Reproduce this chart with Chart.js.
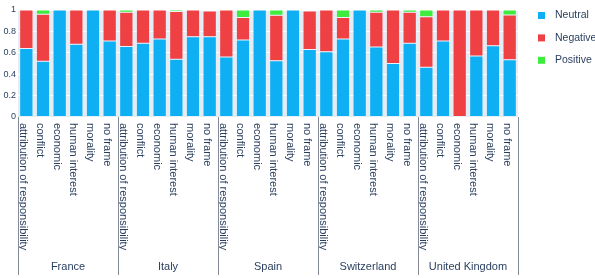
<!DOCTYPE html>
<html>
<head>
<meta charset="utf-8">
<script src="https://cdn.jsdelivr.net/npm/chart.js@4.4.1/dist/chart.umd.min.js"></script>
<style>
  html, body { margin: 0; padding: 0; background: #fff; overflow: hidden; }
  #wrap { position: relative; width: 595px; height: 278px; }
</style>
</head>
<body>
<div id="wrap"><canvas id="chart" width="595" height="278"></canvas></div>
<script>
// ===== 数据 =====
const countries = ['France', 'Italy', 'Spain', 'Switzerland', 'United Kingdom'];
const frames = ['attribution of responsibility', 'conflict', 'economic', 'human interest', 'morality', 'no frame'];
const yTicks = [0, 0.2, 0.4, 0.6, 0.8, 1];

// 每个国家 6 个 frame，依次排列
const neutral = [
  0.64, 0.52, 1.00, 0.68, 1.00, 0.71,   // France
  0.66, 0.69, 0.73, 0.54, 0.75, 0.75,   // Italy
  0.56, 0.72, 1.00, 0.525, 1.00, 0.63,  // Spain
  0.61, 0.73, 1.00, 0.655, 0.50, 0.69,  // Switzerland
  0.466, 0.71, 0.00, 0.57, 0.665, 0.534 // United Kingdom
];
const negative = [
  0.36, 0.44, 0, 0.32, 0, 0.29,
  0.32, 0.31, 0.27, 0.445, 0.25, 0.24,
  0.44, 0.21, 0, 0.425, 0, 0.36,
  0.39, 0.20, 0, 0.325, 0.50, 0.29,
  0.472, 0.29, 1.00, 0.43, 0.335, 0.419
];
const positive = [
  0, 0.04, 0, 0, 0, 0,
  0.02, 0, 0, 0.015, 0, 0.01,
  0, 0.07, 0, 0.05, 0, 0.01,
  0, 0.07, 0, 0.02, 0, 0.02,
  0.062, 0, 0, 0, 0, 0.047
];

const seriesNames = ['Neutral', 'Negative', 'Positive'];
const seriesColors = ['#0fb0f3', '#ef4044', '#3eec3e'];

const TEXT = '#2a3f5f';
const FONT = '"Liberation Sans", Arial, sans-serif';

// x 轴类别：国家 × frame
const labels = [];
countries.forEach((c) => frames.forEach((f) => labels.push(f)));

// ===== 插件：绘图区背景、竖排标签、分组线、图例 =====
const decor = {
  id: 'decor',
  beforeDraw(chart) {
    const { ctx, chartArea: a } = chart;
    ctx.save();
    ctx.fillStyle = '#e5ecf6';
    ctx.fillRect(a.left, a.top, a.right - a.left, a.bottom - a.top);
    ctx.restore();
  },
  afterDraw(chart) {
    const { ctx, chartArea: a } = chart;
    const x = chart.scales.x;
    ctx.save();
    ctx.fillStyle = TEXT;

    // 竖排 frame 标签（顺时针 90°）
    ctx.font = '11px ' + FONT;
    ctx.textAlign = 'left';
    ctx.textBaseline = 'middle';
    labels.forEach((lab, i) => {
      const px = x.getPixelForValue(i) - 3;
      ctx.save();
      ctx.translate(px, a.bottom + 6);
      ctx.rotate(Math.PI / 2);
      ctx.fillText(lab, 0, 0);
      ctx.restore();
    });

    // 分组分隔线 + 国家名
    const n = frames.length;
    const bounds = [a.left];
    for (let g = 1; g < countries.length; g++) {
      bounds.push((x.getPixelForValue(g * n - 1) + x.getPixelForValue(g * n)) / 2);
    }
    bounds.push(a.right);
    ctx.strokeStyle = '#858b96';
    ctx.lineWidth = 1;
    bounds.forEach((bx) => {
      const xx = Math.round(bx) + 0.5;
      ctx.beginPath();
      ctx.moveTo(xx, a.bottom);
      ctx.lineTo(xx, 275);
      ctx.stroke();
    });
    ctx.textAlign = 'center';
    ctx.font = '11px ' + FONT;
    countries.forEach((c, g) => {
      ctx.fillText(c, (bounds[g] + bounds[g + 1]) / 2, 267);
    });

    // 图例
    ctx.textAlign = 'left';
    ctx.font = '10.5px ' + FONT;
    chart.data.datasets.forEach((ds, i) => {
      const cy = 15.5 + i * 22.4;
      ctx.fillStyle = ds.backgroundColor;
      ctx.fillRect(538, cy - 3.5, 7, 7);
      ctx.fillStyle = TEXT;
      ctx.fillText(ds.label, 555, cy);
    });
    ctx.restore();
  },
};

const seriesData = [neutral, negative, positive];

new Chart(document.getElementById('chart'), {
  type: 'bar',
  data: {
    labels,
    datasets: seriesNames.map((name, i) => ({
      label: name,
      data: seriesData[i],
      backgroundColor: seriesColors[i],
      borderColor: 'rgba(255,255,255,0.7)',
      borderWidth: 0.5,
      borderSkipped: false,
      barPercentage: 0.8,
      categoryPercentage: 1.0,
    })),
  },
  options: {
    responsive: false,
    animation: false,
    layout: { padding: { top: 10, right: 77, left: 0, bottom: 0 } },
    plugins: { legend: { display: false }, tooltip: { enabled: false } },
    scales: {
      x: {
        stacked: true,
        grid: { display: false },
        border: { display: false },
        ticks: { display: false },
        afterFit: (s) => { s.height = 161; },
      },
      y: {
        stacked: true,
        min: 0,
        max: 1,
        afterBuildTicks: (s) => { s.ticks = yTicks.map((v) => ({ value: v })); },
        grid: { color: '#ffffff', lineWidth: 1, drawTicks: false },
        border: { display: false },
        ticks: {
          color: TEXT,
          font: { family: FONT, size: 9 },
          padding: 2,
          callback: (v) => String(Math.round(v * 10) / 10),
        },
        afterFit: (s) => { s.width = 18; },
      },
    },
  },
  plugins: [decor],
});
</script>
</body>
</html>
